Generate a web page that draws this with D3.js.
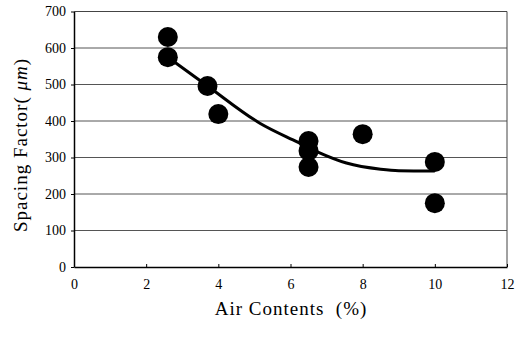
<!DOCTYPE html>
<html>
<head>
<meta charset="utf-8">
<title>Spacing Factor vs Air Contents</title>
<script src="https://d3js.org/d3.v7.min.js"></script>
<style>
  body { margin: 0; background: white; }
  svg { display: block; }
  svg text { font-family: "Liberation Serif", "DejaVu Serif", serif; }
</style>
</head>
<body>
<svg id="chart"></svg>
<script>
// measured points
const airContents = [2.6, 2.6, 3.7, 4.0, 6.5, 6.5, 6.5, 8.0, 10.0, 10.0];
const spacingFactor = [630, 575, 496, 419, 345, 318, 274, 364, 288, 175];

// fitted trend line
const trendX = [2.6, 3.7, 5.15, 6.2, 6.76, 7.55, 8.5, 9.0, 10.0];
const trendY = [575, 496, 394, 342, 315, 285, 268, 264, 263];

const xTicks = [0, 2, 4, 6, 8, 10, 12];
const yTicks = [0, 100, 200, 300, 400, 500, 600, 700];

const width = 522, height = 338;
const margin = {top: 11.5, right: 15, bottom: 71, left: 74};
const plotW = width - margin.left - margin.right;
const plotH = height - margin.top - margin.bottom;

const svg = d3.select("#chart").attr("width", width).attr("height", height);
const g = svg.append("g").attr("transform", `translate(${margin.left},${margin.top})`);

const x = d3.scaleLinear().domain([0, 12]).range([0, plotW]);
const y = d3.scaleLinear().domain([0, 700]).range([plotH, 0]);

// gridlines
g.selectAll("line.grid")
    .data(yTicks.filter(d => d > 0 && d < 700))
    .enter().append("line")
    .attr("class", "grid")
    .attr("x1", 0).attr("x2", plotW)
    .attr("y1", d => y(d)).attr("y2", d => y(d))
    .attr("stroke", "#555").attr("stroke-width", 1);

// top and right frame
g.append("line").attr("x1", 0).attr("x2", plotW).attr("y1", 0).attr("y2", 0)
    .attr("stroke", "#444").attr("stroke-width", 1);
g.append("line").attr("x1", plotW).attr("x2", plotW).attr("y1", 0).attr("y2", plotH)
    .attr("stroke", "#444").attr("stroke-width", 1);

// axes
const xAxis = g.append("g")
    .attr("transform", `translate(0,${plotH})`)
    .call(d3.axisBottom(x).tickValues(xTicks).tickSizeInner(-3).tickSizeOuter(0).tickPadding(12));
const yAxis = g.append("g")
    .call(d3.axisLeft(y).tickValues(yTicks).tickSizeInner(3).tickSizeOuter(0).tickPadding(5));

[xAxis, yAxis].forEach(a => {
    a.attr("font-family", null);
    a.select(".domain").attr("stroke", "#000").attr("stroke-width", 1.5);
    a.selectAll(".tick line").attr("stroke", "#000");
    a.selectAll("text")
        .attr("font-size", 14)
        .attr("fill", "#000");
});

// trend line
const line = d3.line()
    .x((d, i) => x(trendX[i]))
    .y(d => y(d))
    .curve(d3.curveMonotoneX);
g.append("path")
    .datum(trendY)
    .attr("d", line)
    .attr("fill", "none")
    .attr("stroke", "#000")
    .attr("stroke-width", 3);

// points
g.selectAll("circle.pt")
    .data(spacingFactor)
    .enter().append("circle")
    .attr("class", "pt")
    .attr("cx", (d, i) => x(airContents[i]))
    .attr("cy", d => y(d))
    .attr("r", 10)
    .attr("fill", "#000");

// axis titles
svg.append("text")
    .attr("x", 291).attr("y", 315)
    .attr("text-anchor", "middle")
    .attr("font-size", 19)
    .attr("letter-spacing", 1)
    .attr("xml:space", "preserve")
    .text("Air Contents  (%)");

const yTitle = svg.append("text")
    .attr("transform", "translate(27,145) rotate(-90)")
    .attr("text-anchor", "middle")
    .attr("font-size", 19)
    .attr("letter-spacing", 1)
    .attr("xml:space", "preserve");
yTitle.append("tspan").text("Spacing Factor( ");
yTitle.append("tspan").attr("font-style", "italic").text("μm");
yTitle.append("tspan").text(")");
</script>
</body>
</html>
